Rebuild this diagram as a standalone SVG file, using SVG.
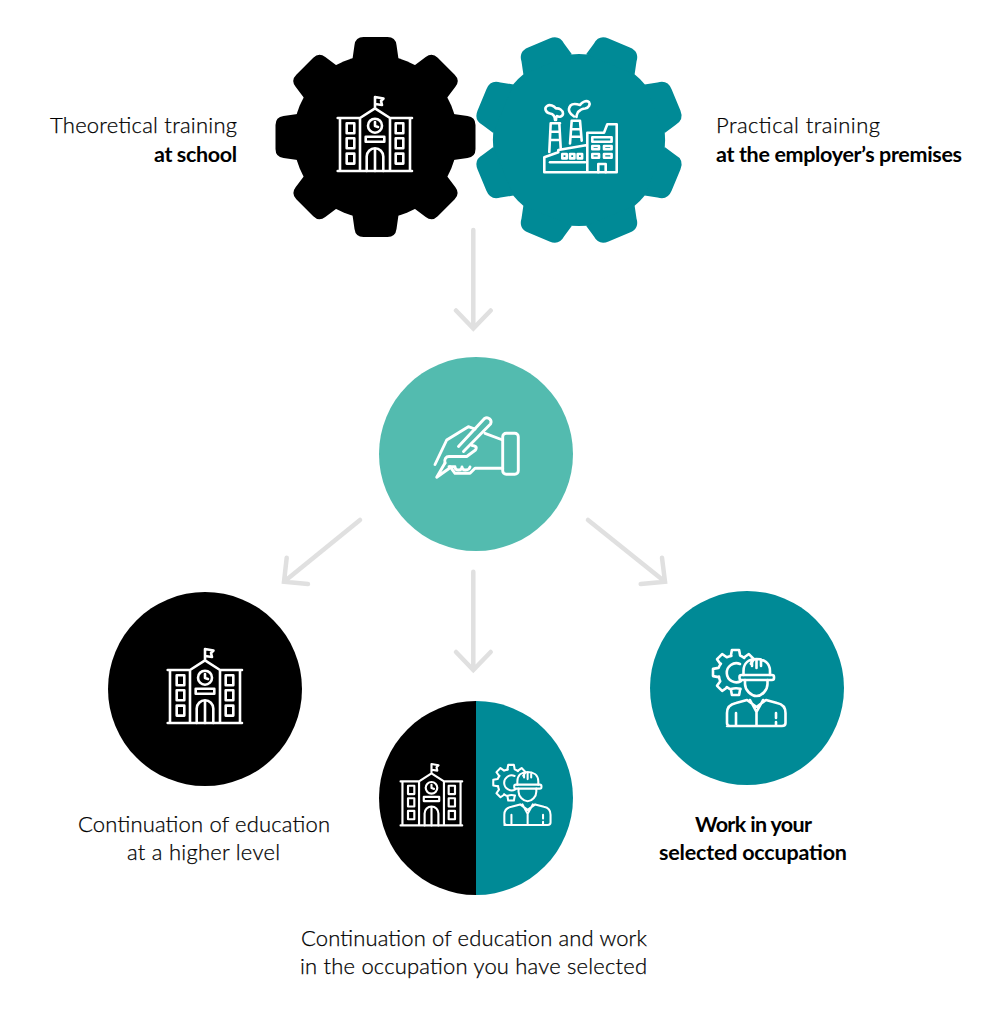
<svg xmlns="http://www.w3.org/2000/svg" width="1005" height="1021" viewBox="0 0 1005 1021">
<style>
text{font-family:"Lato","Liberation Sans",sans-serif;font-size:22px;font-weight:300;fill:#000;stroke:#000;stroke-width:.25}
text.b{font-weight:700;font-size:21.500px;stroke:none}
.ic{fill:none;stroke:#fff;stroke-width:2.600;stroke-linejoin:round;stroke-linecap:round}
.ar{fill:none;stroke:#e0e0e0;stroke-width:4.500;stroke-linecap:round;stroke-linejoin:miter}
</style>
<defs>
<path id="tooth" d="M-23,-78 L-21,-92 Q-20,-100 -12,-100 H12 Q20,-100 21,-92 L23,-78 Z"/>
<path id="tooth2" d="M-25,-78 L-22,-90 Q-21,-100 -11,-100 H11 Q21,-100 22,-90 L25,-78 Z"/>
<g id="gear">
<circle r="82"/>
<use href="#tooth"/><use href="#tooth" transform="rotate(45)"/><use href="#tooth" transform="rotate(90)"/><use href="#tooth" transform="rotate(135)"/><use href="#tooth" transform="rotate(180)"/><use href="#tooth" transform="rotate(225)"/><use href="#tooth" transform="rotate(270)"/><use href="#tooth" transform="rotate(315)"/>
</g>
<g id="gear2">
<circle r="82"/>
<use href="#tooth2"/><use href="#tooth2" transform="rotate(45)"/><use href="#tooth2" transform="rotate(90)"/><use href="#tooth2" transform="rotate(135)"/><use href="#tooth2" transform="rotate(180)"/><use href="#tooth2" transform="rotate(225)"/><use href="#tooth2" transform="rotate(270)"/><use href="#tooth2" transform="rotate(315)"/>
</g>
<g id="school" class="ic">
<path d="M12.700,86H87M15,33V86M35,33V86M65,33V86M85,33V86M12.700,33H35L50,23.300L65,33H87M50,23V12L58.500,13.500L56,16L57,20L50,19"/>
<circle cx="50" cy="40.700" r="7"/>
<path d="M50,37V41L53,42"/>
<rect x="40.700" y="51.700" width="18.600" height="5"/>
<path d="M41.700,86V71.600A8.300,8.300 0 0 1 58.300,71.600V86M50,63.300V86"/>
<path d="M21.700,38.300h7.600v10h-7.600zM21.700,53.300h7.600v10h-7.600zM21.700,68.600h7.600v10h-7.600zM70.700,38.300h7.600v10h-7.600zM70.700,53.300h7.600v10h-7.600zM70.700,68.600h7.600v10h-7.600z"/>
</g>
<path id="gt" d="M-4.600,-17L-3.600,-22.500H3.600L4.600,-17A17,17 0 0 1 8.760,-14.570"/>
<path id="gt0" d="M-4.600,-17L-3.600,-22.500H3.600L4.600,-17"/>
<g id="worker" class="ic">
<use href="#gt" transform="translate(35.500,32.500) rotate(-135)"/>
<use href="#gt" transform="translate(35.500,32.500) rotate(-90)"/>
<use href="#gt" transform="translate(35.500,32.500) rotate(-45)"/>
<use href="#gt" transform="translate(35.500,32.500) rotate(0)"/>
<use href="#gt" transform="translate(35.500,32.500) rotate(-180)"/>
<use href="#gt0" transform="translate(35.500,32.500) rotate(45)"/>
<path d="M40.500,48.800A17,17 0 0 0 31,49"/>
<path d="M40,24A9.500,9.500 0 1 0 41,41"/>
<rect x="39.500" y="35" width="34.500" height="5" rx="2"/>
<path d="M43.500,35V31C43.500,23 49,19 56.500,19C64,19 70,23 70,31V35M56.500,19V28M52,19.500V26M61,19.500V26"/>
<path d="M45,40V44C45,50 51,56 56.500,56C62,56 67.500,50 67.500,44V40"/>
<path d="M27,86H82C84,86 85.500,85 85.500,83V73C85.500,67 82,64 77,63L66,60L56.500,67L47,60L36,63C31,64 27,67 27,73V83C27,85 28,86 30,86M36,73V85M76,73V78M76,82V85M50,60L56.500,72L63,60M56.500,72V85"/>
</g>
<g id="factory" class="ic">
<path d="M14.300,82.300H86.700V34.300H77.300L74,42.700H57.300V82.300M14.300,82.300V67.300L28.300,62.300V60L57.300,55"/>
<path d="M20,72.300H55"/>
<path d="M32.300,64h4.400v4.400h-4.400zM40,64h4.400v4.400h-4.400zM47.700,64h4.400v4.400h-4.400z"/>
<path d="M20.700,33.300H30M20.700,33.300L19.300,62M29.300,33.300L30.700,58M20.200,41.700H29.800M19.800,50H30.200"/>
<path d="M41.700,30.700H50M41.700,30.700L40,53.500M50,30.700L51.700,50.700M41.200,39.300H50.600M40.800,46.700H51.200"/>
<path d="M25,30C25,26 23,24 20,23.500C15.500,23 14,18 17,16C20,14 24,16 26,18.500C29,18 33,20 33,23.500C33,26.500 29,27.500 27,26C26,27 26,29 26,30"/>
<path d="M44,26.500C40,24 37,20 40.500,15.500C43,13 47,14 50,15C52,12 56,10 59,12C60.500,14 59,18 55,18.500C52,18.500 50,20 48,22C47,24 46.500,25 46.500,27"/>
<path d="M62.300,47.300h19.300v4.400h-19.300zM62.300,56h6.700v3.300h-6.700zM74,56h7.600v3.300h-7.600zM62.300,64h6.700v3.700h-6.700zM74,64h7.600v3.700h-7.600zM68.300,82.300V74h7.400v8.300"/>
</g>
<g id="hand" class="ic" style="stroke-width:2.900">
<rect x="77.700" y="28.300" width="15.600" height="41" rx="3.500"/>
<path d="M33.500,41.500L59.500,13.500A4.200,4.200 0 0 1 65.500,19L38.500,46.500"/>
<path d="M20,58L11.700,72.300L24,63.500"/>
<path d="M10,59.500L21.700,35L43.300,21.700L50,24M60,28.300L77.700,35M77.700,63.300H50L45,68.300H30L25,61.700"/>
<path d="M24,51.500H41.700L50.500,45C52.500,42 50,40.500 47,40.500M20,58C19,54 21,51.500 24,51.500M24,61.700H30M30,62C30,66 37,66 37,62M37,62C37,66 44,66 45,62"/>
</g>
</defs>
<g id="connectors" class="ar">
<path d="M473.300,230V328.500M456,310.500L473.300,328.500L490.700,310.500"/>
<path d="M360,520L284,581.700M286.700,557.700L284,581.700L308,584"/>
<path d="M473.300,571.700V670M456,652L473.300,670L490.700,652"/>
<path d="M588,520L665,581.700M662,557.700L665,581.700L640.700,584"/>
</g>
<g id="gear-school">
<use href="#gear" transform="translate(375.500,137)"/>
<use href="#school" transform="translate(325,85)"/>
<text x="50" y="133" textLength="187">Theoretical training</text>
<text class="b" x="154" y="162" textLength="83">at school</text>
</g>
<g id="gear-employer">
<use href="#gear2" fill="#008a96" transform="translate(579,140) rotate(22.500) scale(1.050)"/>
<use href="#factory" transform="translate(530,90)"/>
<text x="716" y="133" textLength="164">Practical training</text>
<text class="b" x="716" y="162" textLength="246">at the employer’s premises</text>
</g>
<g id="contract">
<circle cx="476" cy="454" r="97" fill="#53bbaf"/>
<use href="#hand" transform="translate(425,405)"/>
</g>
<g id="education">
<circle cx="205" cy="689" r="97"/>
<use href="#school" transform="translate(155,637)"/>
<text x="78" y="832" textLength="252">Continuation of education</text>
<text x="127" y="860" textLength="153">at a higher level</text>
</g>
<g id="both">
<path d="M476,701A97,97 0 0 0 476,895Z"/>
<path d="M476,701A97,97 0 0 1 476,895Z" fill="#008a96"/>
<use href="#school" transform="translate(390,754) scale(.83)"/>
<use href="#worker" transform="translate(483,757) scale(.79)"/>
<text x="301" y="946" textLength="346">Continuation of education and work</text>
<text x="300" y="974" textLength="347">in the occupation you have selected</text>
</g>
<g id="work">
<circle cx="747" cy="688" r="97" fill="#008a96"/>
<use href="#worker" transform="translate(700,640)"/>
<text class="b" x="695" y="832" textLength="117">Work in your</text>
<text class="b" x="659" y="860" textLength="188">selected occupation</text>
</g>
</svg>
